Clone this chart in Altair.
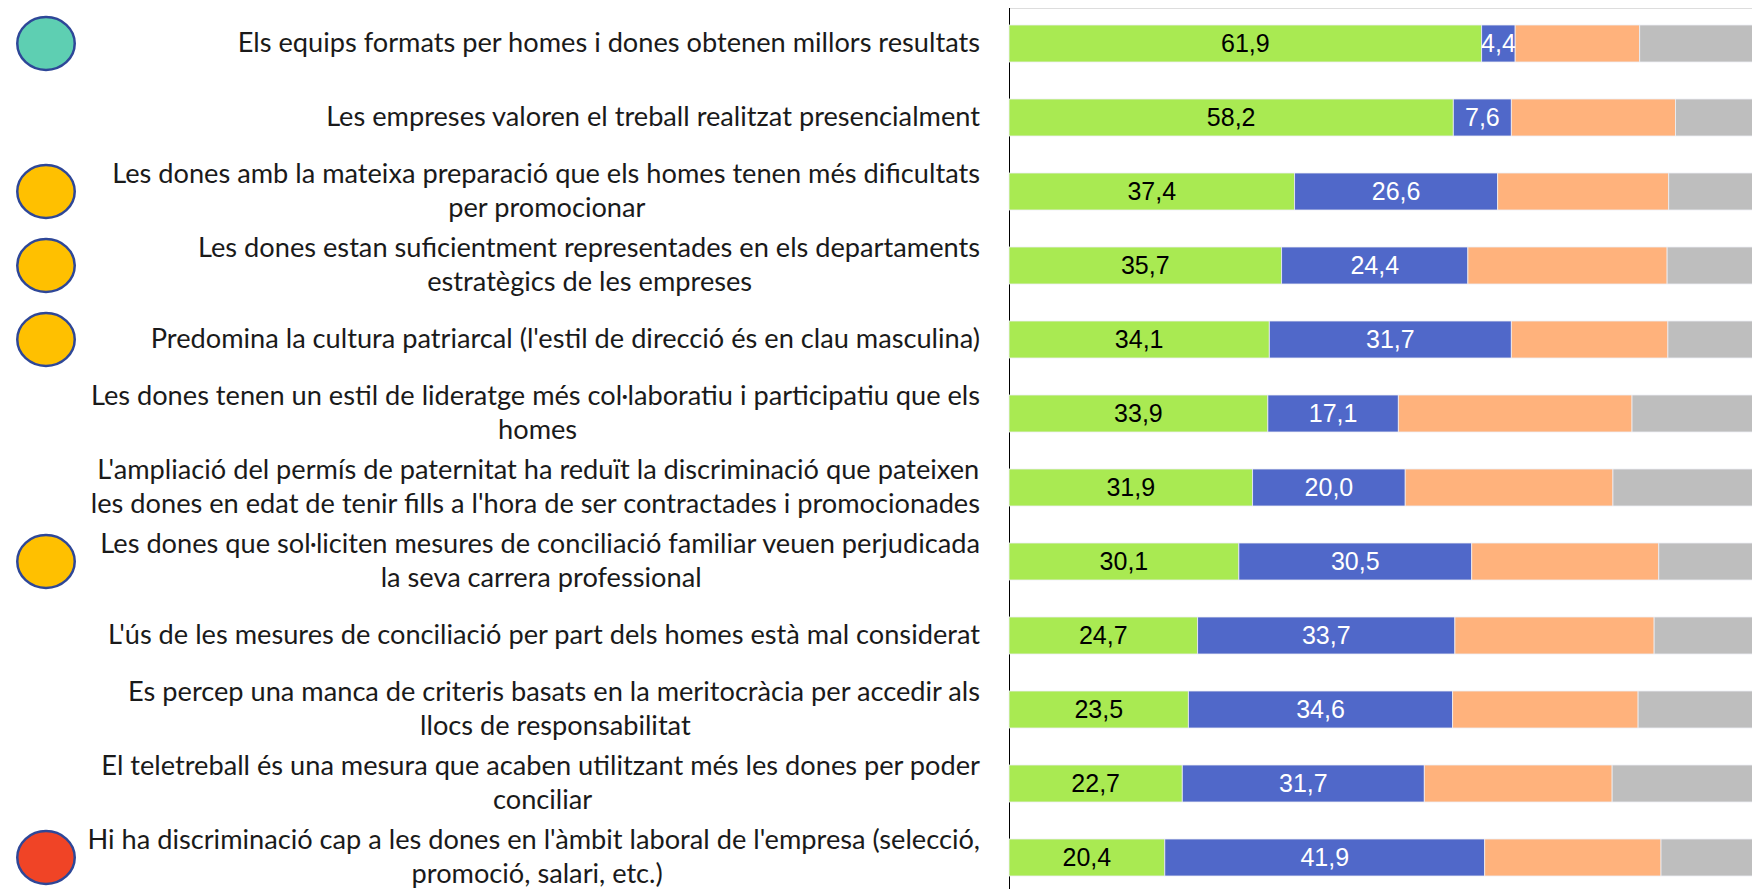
import altair as alt
import pandas as pd

# ---- data -----------------------------------------------------------------
statements = [
    ["Els equips formats per homes i dones obtenen millors resultats"],
    ["Les empreses valoren el treball realitzat presencialment"],
    ["Les dones amb la mateixa preparació que els homes tenen més dificultats", "per promocionar"],
    ["Les dones estan suficientment representades en els departaments", "estratègics de les empreses"],
    ["Predomina la cultura patriarcal (l'estil de direcció és en clau masculina)"],
    ["Les dones tenen un estil de lideratge més col·laboratiu i participatiu que els", "homes"],
    ["L'ampliació del permís de paternitat ha reduït la discriminació que pateixen",
     "les dones en edat de tenir fills a l'hora de ser contractades i promocionades"],
    ["Les dones que sol·liciten mesures de conciliació familiar veuen perjudicada", "la seva carrera professional"],
    ["L'ús de les mesures de conciliació per part dels homes està mal considerat"],
    ["Es percep una manca de criteris basats en la meritocràcia per accedir als", "llocs de responsabilitat"],
    ["El teletreball és una mesura que acaben utilitzant més les dones per poder", "conciliar"],
    ["Hi ha discriminació cap a les dones en l'àmbit laboral de l'empresa (selecció,", "promoció, salari, etc.)"],
]
series = ["D'acord", "En desacord", "Ni d'acord ni en desacord", "Ns/Nc"]
acord = [61.9, 58.2, 37.4, 35.7, 34.1, 33.9, 31.9, 30.1, 24.7, 23.5, 22.7, 20.4]
desacord = [4.4, 7.6, 26.6, 24.4, 31.7, 17.1, 20.0, 30.5, 33.7, 34.6, 31.7, 41.9]
neutral = [16.3, 21.5, 22.4, 26.1, 20.5, 30.6, 27.2, 24.5, 26.1, 24.3, 24.6, 23.1]
nsnc = [17.4, 12.7, 13.6, 13.8, 13.7, 18.4, 20.9, 14.9, 15.5, 17.6, 21.0, 14.6]
labelled_series = ["D'acord", "En desacord"]
marker_rows = [0, 2, 3, 4, 7, 11]
marker_kind = ["teal", "yellow", "yellow", "yellow", "yellow", "red"]

# ---- styles ---------------------------------------------------------------
series_colors = {"D'acord": "#A9EA52", "En desacord": "#5068C9",
                 "Ni d'acord ni en desacord": "#FFB27C", "Ns/Nc": "#BEBEBE"}
value_text_colors = {"D'acord": "#000000", "En desacord": "#FFFFFF"}
marker_colors = {"teal": "#5ECFB2", "yellow": "#FFC000", "red": "#F04426"}
LABEL_FONT = "Lato"
LABEL_SIZE = 27.2
LABEL_RIGHT = -29          # right edge of the label block, px left of the axis
LINE_H = 34

# approximate advance widths (em) used to centre the shorter wrapped line
_w = {" ": 0.26, "'": 0.22, "(": 0.30, ")": 0.30, ",": 0.21, ".": 0.21, "·": 0.21,
      "a": 0.49, "b": 0.55, "c": 0.46, "d": 0.55, "e": 0.52, "f": 0.33, "g": 0.50,
      "h": 0.55, "i": 0.24, "j": 0.24, "k": 0.51, "l": 0.24, "m": 0.83, "n": 0.55,
      "o": 0.55, "p": 0.55, "q": 0.55, "r": 0.37, "s": 0.43, "t": 0.35, "u": 0.55,
      "v": 0.51, "w": 0.77, "x": 0.50, "y": 0.51, "z": 0.45}
_base = str.maketrans("àáèéíïòóúüç", "aaeeiioouuc")


def text_width(s):
    return sum(_w.get(ch.translate(_base), 0.64) for ch in s) * LABEL_SIZE


cats = [" ".join(s) for s in statements]

# bars
rows = []
for i, c in enumerate(cats):
    vals = [acord[i], desacord[i], neutral[i], nsnc[i]]
    start = 0.0
    for s, v in zip(series, vals):
        rows.append({"cat": c, "serie": s, "start": start, "end": start + v,
                     "mid": start + v / 2, "lab": f"{v:.1f}".replace(".", ","),
                     "color": series_colors[s],
                     "tcolor": value_text_colors.get(s, "#000000")})
        start += v
bars = pd.DataFrame(rows)
vtexts = bars[bars["serie"].isin(labelled_series)]

# category labels: longest line right-aligned, the other centred beneath/above it
lab_rows = []
for c, lines in zip(cats, statements):
    if len(lines) == 1:
        main, other, cx = lines[0], "", LABEL_RIGHT
    else:
        k = 0 if text_width(lines[0]) >= text_width(lines[1]) else 1
        main = lines[0] + "\n" if k == 0 else "\n" + lines[1]
        other = "\n" + lines[1] if k == 0 else lines[0] + "\n"
        cx = LABEL_RIGHT - text_width(lines[k]) / 2
    lab_rows.append({"cat": c, "main": main, "other": other, "cx": cx,
                     "nlines": len(lines)})
labs = pd.DataFrame(lab_rows)
labs1 = labs[labs["nlines"] == 1]
labs2 = labs[labs["nlines"] == 2]

marks_df = pd.DataFrame({"cat": [cats[i] for i in marker_rows],
                         "fill": [marker_colors[k] for k in marker_kind]})

# ---- chart ----------------------------------------------------------------
yenc = alt.Y("cat:N", sort=cats, title=None,
             scale=alt.Scale(range=[-1.5, 886.5], paddingInner=0.5, paddingOuter=0.25),
             axis=alt.Axis(labels=False, ticks=False, grid=False, domainColor="#000000",
                           domainWidth=1))
ynoax = alt.Y("cat:N", sort=cats)
xscale = alt.Scale(domain=[0, 100], range=[0, 763.5])

bar_layer = alt.Chart(bars).mark_bar(stroke="#EDEFF5", strokeWidth=0.8).encode(
    y=yenc,
    x=alt.X("start:Q", scale=xscale, axis=None),
    x2="end:Q",
    color=alt.Color("color:N", scale=None),
)
val_layer = alt.Chart(vtexts).mark_text(font="Liberation Sans", fontSize=25,
                                        align="center", baseline="middle").encode(
    y=ynoax, x=alt.X("mid:Q", scale=xscale), text="lab:N",
    color=alt.Color("tcolor:N", scale=None),
)
txt = dict(font=LABEL_FONT, fontSize=LABEL_SIZE, baseline="middle", lineBreak="\n",
           lineHeight=LINE_H, color="#1A1A1A")
main1 = alt.Chart(labs1).mark_text(align="right", **txt).encode(
    y=ynoax, x=alt.value(LABEL_RIGHT), text="main:N")
main2 = alt.Chart(labs2).mark_text(align="right", dy=-LINE_H / 2, **txt).encode(
    y=ynoax, x=alt.value(LABEL_RIGHT), text="main:N")
other2 = alt.Chart(labs2).mark_text(align="center", dy=-LINE_H / 2, **txt).encode(
    y=ynoax, x=alt.X("cx:Q", scale=None), text="other:N")
ellipse = "M-1,0A1,0.92,0,1,1,1,0A1,0.92,0,1,1,-1,0Z"
marker_layer = alt.Chart(marks_df).mark_point(shape=ellipse, size=3300, filled=True,
                                              opacity=1, fillOpacity=1, stroke="#2E4798",
                                              strokeWidth=2.5).encode(
    y=ynoax, x=alt.value(-963), fill=alt.Fill("fill:N", scale=None))

chart = alt.layer(bar_layer, val_layer, main1, main2, other2, marker_layer).properties(
    width=743, height=881,
    autosize=alt.AutoSizeParams(type="none"),
    padding={"left": 1001, "top": 0, "right": 0, "bottom": 0},
).configure_view(stroke=None).configure(background="#FFFFFF")

chart.save("out.html", embed_options={"renderer": "svg", "actions": False})
